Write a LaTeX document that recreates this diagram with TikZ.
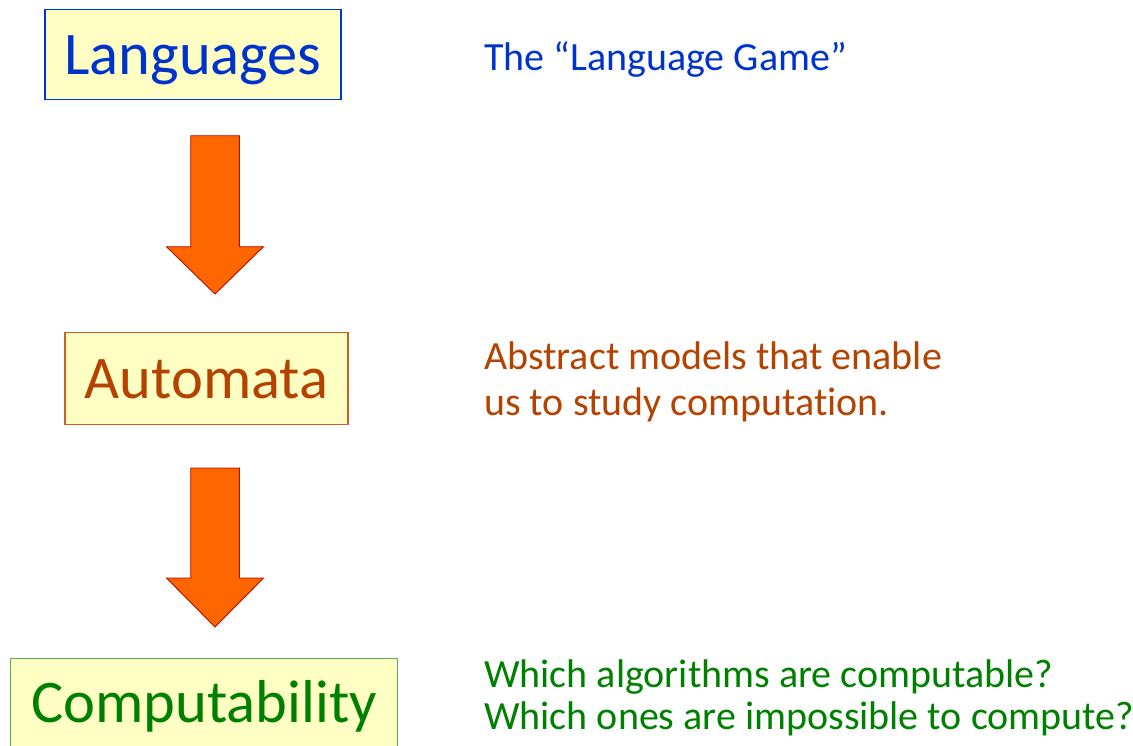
\documentclass[tikz,border=0pt]{standalone}
\usepackage{fontspec}
\setmainfont{Carlito}[Ligatures=NoCommon]
\usetikzlibrary{positioning}

\definecolor{langblue}{RGB}{0,51,204}
\definecolor{autobrown}{RGB}{180,66,0}
\definecolor{autoedge}{RGB}{204,96,40}
\definecolor{compgreen}{RGB}{0,128,0}
\definecolor{compedge}{RGB}{90,170,90}
\definecolor{boxfill}{RGB}{255,255,196}
\definecolor{arrowfill}{RGB}{255,102,0}
\definecolor{arrowedge}{RGB}{180,10,0}

\begin{document}
\begin{tikzpicture}[x=1pt, y=-1pt,
topic/.style={rectangle, fill=boxfill, line width=1.2pt, inner sep=0pt,
  text height=39pt, text depth=0pt, font=\fontsize{60.5}{70}\selectfont},
note/.style={anchor=base west, inner sep=0pt, align=left},
bigarrow/.style={fill=arrowfill, draw=arrowedge, line width=0.9pt, line join=miter},
]
\useasboundingbox (0,0) rectangle (1133,745);

\node[topic, draw=langblue, text=langblue, minimum width=296pt, minimum height=90pt](lang) at (193,54.5){Languages};
\node[topic, draw=autoedge, text=autobrown, minimum width=283pt, minimum height=92pt](auto) at (206.5,378.5){Automata};
\node[topic, draw=compedge, text=compgreen, minimum width=387pt, minimum height=88pt](comp) at (204,702.5){Computability};

\node[note, text=langblue, font=\fontsize{40}{46}\selectfont](game) at (484,70){The “Language Game”};
\node[note, text=autobrown, font=\fontsize{40}{46}\selectfont](models) at (484,415){Abstract models that enable\\us to study computation.};
\node[note, text=compgreen, font=\fontsize{40}{42}\selectfont](which) at (484,729){Which algorithms are computable?\\Which ones are impossible to compute?};

% block arrows between the topics
\coordinate (a1) at (215,135.7);
\coordinate (t1) at (215,294);
\coordinate (a2) at (215,468);
\coordinate (t2) at (215,627);
\draw[bigarrow] (a1) -- ++(24.3,0) -- ++(0,111) -- ++(24.2,0) -- (t1) -- ++(-48.5,-47.3) -- ++(24.2,0) -- ++(0,-111) -- cycle;
\draw[bigarrow] (a2) -- ++(24.3,0) -- ++(0,110) -- ++(24.2,0) -- (t2) -- ++(-48.5,-49) -- ++(24.2,0) -- ++(0,-110) -- cycle;
\end{tikzpicture}
\end{document}
